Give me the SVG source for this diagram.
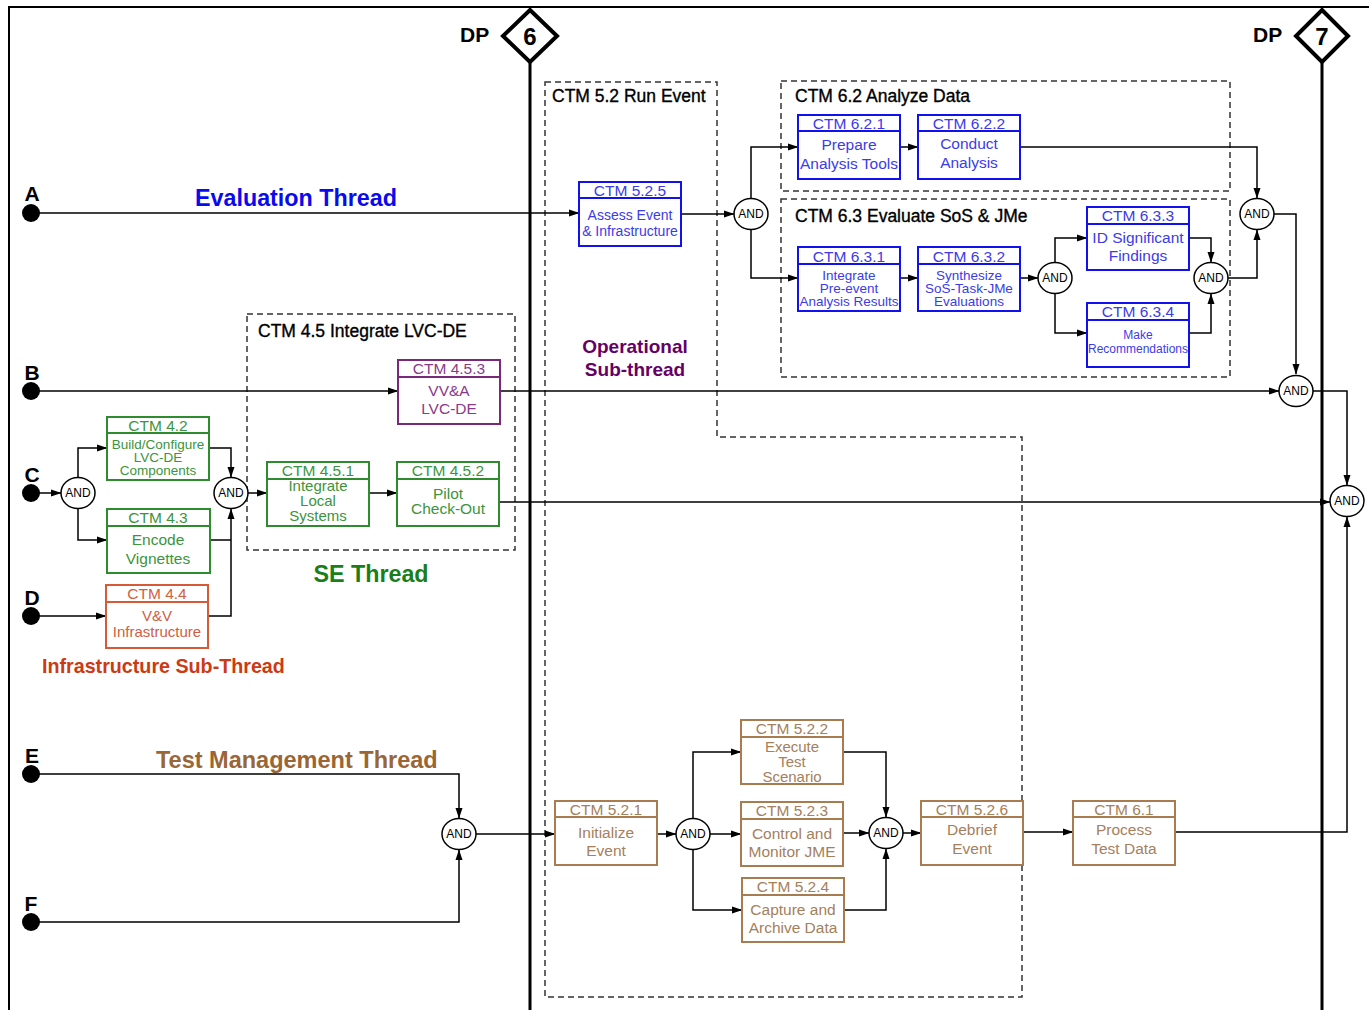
<svg xmlns="http://www.w3.org/2000/svg" width="1369" height="1010" viewBox="0 0 1369 1010">
  <defs>
    <marker id="arr" markerWidth="11" markerHeight="8" refX="10" refY="4" orient="auto" markerUnits="userSpaceOnUse">
      <path d="M0,0.5 L10.5,4 L0,7.5 z" fill="#000"/>
    </marker>
    <style>
      text { font-family: "Liberation Sans", Arial, sans-serif; }
      .frame { stroke: #000; stroke-width: 2; fill: none; }
      .dp { stroke: #000; stroke-width: 3; fill: none; }
      .diamond { stroke: #000; stroke-width: 4; fill: #fff; }
      .dptxt { font-size: 21px; font-weight: bold; fill: #000; }
      .dpnum { font-size: 24px; font-weight: bold; fill: #000; text-anchor: middle; }
      .grp { stroke: #333; stroke-width: 1.5; stroke-dasharray: 6 4; fill: none; }
      .gtitle { font-size: 17.5px; fill: #000; stroke: #000; stroke-width: 0.35; }
      .box { fill: #fff; stroke-width: 2; }
      .hd { font-size: 15.5px; text-anchor: middle; }
      .bd { text-anchor: middle; }
      .blue .box { stroke: #1010f0; }
      .blue text { fill: #3b3bea; }
      .green .box { stroke: #2e8b2e; }
      .green text { fill: #3c943c; }
      .brown .box { stroke: #a97c50; }
      .brown text { fill: #a5805c; }
      .purple .box { stroke: #7a287a; }
      .purple text { fill: #8a3a8a; }
      .orange .box { stroke: #d65a36; }
      .orange text { fill: #d0603f; }
      .and ellipse { fill: #fff; stroke: #000; stroke-width: 1.5; }
      .and text { font-size: 12px; fill: #000; text-anchor: middle; }
      .dot { fill: #000; }
      .letter { font-size: 21px; font-weight: bold; fill: #000; text-anchor: middle; }
      .wire { stroke: #000; stroke-width: 1.5; fill: none; }
      .wire.a { marker-end: url(#arr); }
      .thread { font-weight: bold; }
    </style>
  </defs>

  <rect width="1369" height="1010" fill="#fff"/>

  <!-- outer frame -->
  <g id="frame">
    <line class="frame" x1="8" y1="7" x2="1369" y2="7"/>
    <line class="frame" x1="9" y1="6" x2="9" y2="1010"/>
  </g>

  <!-- decision point lines -->
  <g id="dp6">
    <line class="dp" x1="530" y1="60" x2="530" y2="1010"/>
    <text class="dptxt" x="460" y="42">DP</text>
    <polygon class="diamond" points="530,10 557,36 530,62 503,36"/>
    <text class="dpnum" x="530" y="45">6</text>
  </g>
  <g id="dp7">
    <line class="dp" x1="1322" y1="60" x2="1322" y2="1010"/>
    <text class="dptxt" x="1253" y="42">DP</text>
    <polygon class="diamond" points="1322,10 1348,36 1322,62 1296,36"/>
    <text class="dpnum" x="1322" y="45">7</text>
  </g>

  <!-- activity groupings -->
  <g id="grp-5-2">
    <polygon class="grp" points="545,82 717,82 717,437 1022,437 1022,997 545,997"/>
    <text class="gtitle" x="552" y="102">CTM 5.2 Run Event</text>
  </g>
  <g id="grp-6-2">
    <rect class="grp" x="781" y="81" width="449" height="110"/>
    <text class="gtitle" x="795" y="102">CTM 6.2 Analyze Data</text>
  </g>
  <g id="grp-6-3">
    <rect class="grp" x="781" y="199" width="449" height="178"/>
    <text class="gtitle" x="795" y="222">CTM 6.3 Evaluate SoS &amp; JMe</text>
  </g>
  <g id="grp-4-5">
    <rect class="grp" x="247" y="314" width="268" height="236"/>
    <text class="gtitle" x="258" y="337">CTM 4.5 Integrate LVC-DE</text>
  </g>

  <!-- thread labels -->
  <g id="labels">
    <text class="thread" x="195" y="206" style="font-size:23.3px;fill:#0a0aee">Evaluation Thread</text>
    <text class="thread" x="371" y="582" text-anchor="middle" style="font-size:23.3px;fill:#1a7f1a">SE Thread</text>
    <text class="thread" x="42" y="673" style="font-size:19.7px;fill:#cc3a14">Infrastructure Sub-Thread</text>
    <text class="thread" x="156" y="768" style="font-size:23.5px;fill:#9a6636">Test Management Thread</text>
    <text class="thread" x="635" y="353" text-anchor="middle" style="font-size:19px;fill:#660066">Operational</text>
    <text class="thread" x="635" y="376" text-anchor="middle" style="font-size:19px;fill:#660066">Sub-thread</text>
  </g>

  <!-- connectors -->
  <g id="connectors">
    <!-- evaluation thread -->
    <polyline class="wire a" points="31,213 579,213"/>
    <polyline class="wire a" points="681,214 734,214"/>
    <polyline class="wire a" points="751,199 751,147 798,147"/>
    <polyline class="wire a" points="751,229 751,278 798,278"/>
    <polyline class="wire a" points="900,147 918,147"/>
    <polyline class="wire a" points="1020,147 1257,147 1257,198"/>
    <polyline class="wire a" points="900,278 918,278"/>
    <polyline class="wire a" points="1020,278 1038,278"/>
    <polyline class="wire a" points="1055,263 1055,238 1087,238"/>
    <polyline class="wire a" points="1055,293 1055,333 1087,333"/>
    <polyline class="wire a" points="1189,238 1211,238 1211,262"/>
    <polyline class="wire a" points="1189,333 1211,333 1211,294"/>
    <polyline class="wire a" points="1228,278 1257,278 1257,230"/>
    <polyline class="wire a" points="1274,214 1296,214 1296,374"/>
    <!-- B thread -->
    <polyline class="wire a" points="31,391 398,391"/>
    <polyline class="wire a" points="500,391 1279,391"/>
    <polyline class="wire a" points="1313,391 1347,391 1347,485"/>
    <!-- C / D threads -->
    <polyline class="wire a" points="31,493 61,493"/>
    <polyline class="wire a" points="78,478 78,448 107,448"/>
    <polyline class="wire a" points="78,508 78,540 107,540"/>
    <polyline class="wire a" points="209,448 231,448 231,477"/>
    <polyline class="wire" points="210,540 231,540"/>
    <polyline class="wire a" points="208,616 231,616 231,509"/>
    <polyline class="wire a" points="31,616 106,616"/>
    <polyline class="wire a" points="248,493 267,493"/>
    <polyline class="wire a" points="369,493 397,493"/>
    <polyline class="wire a" points="499,502 1330,502"/>
    <!-- test management thread -->
    <polyline class="wire a" points="31,774 459,774 459,818"/>
    <polyline class="wire a" points="31,922 459,922 459,850"/>
    <polyline class="wire a" points="476,834 555,834"/>
    <polyline class="wire a" points="657,834 676,834"/>
    <polyline class="wire a" points="693,819 693,752 741,752"/>
    <polyline class="wire a" points="710,834 741,834"/>
    <polyline class="wire a" points="693,849 693,910 742,910"/>
    <polyline class="wire a" points="843,752 886,752 886,817"/>
    <polyline class="wire a" points="843,833 869,833"/>
    <polyline class="wire a" points="844,910 886,910 886,849"/>
    <polyline class="wire a" points="903,833 921,833"/>
    <polyline class="wire a" points="1023,832 1073,832"/>
    <polyline class="wire a" points="1175,832 1347,832 1347,517"/>
  </g>

  <!-- thread start points -->
  <g id="start-A"><circle class="dot" cx="31" cy="213" r="9"/><text class="letter" x="32" y="201">A</text></g>
  <g id="start-B"><circle class="dot" cx="31" cy="391" r="9"/><text class="letter" x="32" y="380">B</text></g>
  <g id="start-C"><circle class="dot" cx="31" cy="493" r="9"/><text class="letter" x="32" y="482">C</text></g>
  <g id="start-D"><circle class="dot" cx="31" cy="616" r="9"/><text class="letter" x="32" y="605">D</text></g>
  <g id="start-E"><circle class="dot" cx="31" cy="774" r="9"/><text class="letter" x="32" y="763">E</text></g>
  <g id="start-F"><circle class="dot" cx="31" cy="922" r="9"/><text class="letter" x="31" y="911">F</text></g>

  <!-- AND junctions -->
  <g id="and-751-214" class="and"><ellipse cx="751" cy="214" rx="17" ry="15.5"/><text x="751" y="218">AND</text></g>
  <g id="and-1055-278" class="and"><ellipse cx="1055" cy="278" rx="17" ry="15.5"/><text x="1055" y="282">AND</text></g>
  <g id="and-1211-278" class="and"><ellipse cx="1211" cy="278" rx="17" ry="15.5"/><text x="1211" y="282">AND</text></g>
  <g id="and-1257-214" class="and"><ellipse cx="1257" cy="214" rx="17" ry="15.5"/><text x="1257" y="218">AND</text></g>
  <g id="and-1296-391" class="and"><ellipse cx="1296" cy="391" rx="17" ry="15.5"/><text x="1296" y="395">AND</text></g>
  <g id="and-1347-501" class="and"><ellipse cx="1347" cy="501" rx="17" ry="15.5"/><text x="1347" y="505">AND</text></g>
  <g id="and-78-493" class="and"><ellipse cx="78" cy="493" rx="17" ry="15.5"/><text x="78" y="497">AND</text></g>
  <g id="and-231-493" class="and"><ellipse cx="231" cy="493" rx="17" ry="15.5"/><text x="231" y="497">AND</text></g>
  <g id="and-459-834" class="and"><ellipse cx="459" cy="834" rx="17" ry="15.5"/><text x="459" y="838">AND</text></g>
  <g id="and-693-834" class="and"><ellipse cx="693" cy="834" rx="17" ry="15.5"/><text x="693" y="838">AND</text></g>
  <g id="and-886-833" class="and"><ellipse cx="886" cy="833" rx="17" ry="15.5"/><text x="886" y="837">AND</text></g>

  <!-- activity boxes -->
  <g id="ctm-5-2-5" class="blue">
    <rect class="box" x="579" y="182" width="102" height="64"/>
    <line class="box" x1="579" y1="198" x2="681" y2="198"/>
    <text class="hd" x="630" y="196">CTM 5.2.5</text>
    <text class="bd" x="630" y="220" font-size="14">Assess Event</text>
    <text class="bd" x="630" y="236" font-size="14">&amp; Infrastructure</text>
  </g>
  <g id="ctm-6-2-1" class="blue">
    <rect class="box" x="798" y="115" width="102" height="64"/>
    <line class="box" x1="798" y1="131" x2="900" y2="131"/>
    <text class="hd" x="849" y="129">CTM 6.2.1</text>
    <text class="bd" x="849" y="150" font-size="15.5">Prepare</text>
    <text class="bd" x="849" y="169" font-size="15.5">Analysis Tools</text>
  </g>
  <g id="ctm-6-2-2" class="blue">
    <rect class="box" x="918" y="115" width="102" height="64"/>
    <line class="box" x1="918" y1="131" x2="1020" y2="131"/>
    <text class="hd" x="969" y="129">CTM 6.2.2</text>
    <text class="bd" x="969" y="149" font-size="15.5">Conduct</text>
    <text class="bd" x="969" y="168" font-size="15.5">Analysis</text>
  </g>
  <g id="ctm-6-3-1" class="blue">
    <rect class="box" x="798" y="247" width="102" height="64"/>
    <line class="box" x1="798" y1="264" x2="900" y2="264"/>
    <text class="hd" x="849" y="262">CTM 6.3.1</text>
    <text class="bd" x="849" y="280" font-size="13.5">Integrate</text>
    <text class="bd" x="849" y="293" font-size="13.5">Pre-event</text>
    <text class="bd" x="849" y="306" font-size="13.5">Analysis Results</text>
  </g>
  <g id="ctm-6-3-2" class="blue">
    <rect class="box" x="918" y="247" width="102" height="64"/>
    <line class="box" x1="918" y1="264" x2="1020" y2="264"/>
    <text class="hd" x="969" y="262">CTM 6.3.2</text>
    <text class="bd" x="969" y="280" font-size="13.5">Synthesize</text>
    <text class="bd" x="969" y="293" font-size="13.5">SoS-Task-JMe</text>
    <text class="bd" x="969" y="306" font-size="13.5">Evaluations</text>
  </g>
  <g id="ctm-6-3-3" class="blue">
    <rect class="box" x="1087" y="207" width="102" height="63"/>
    <line class="box" x1="1087" y1="224" x2="1189" y2="224"/>
    <text class="hd" x="1138" y="221">CTM 6.3.3</text>
    <text class="bd" x="1138" y="243" font-size="15.5">ID Significant</text>
    <text class="bd" x="1138" y="261" font-size="15.5">Findings</text>
  </g>
  <g id="ctm-6-3-4" class="blue">
    <rect class="box" x="1087" y="303" width="102" height="64"/>
    <line class="box" x1="1087" y1="320" x2="1189" y2="320"/>
    <text class="hd" x="1138" y="317">CTM 6.3.4</text>
    <text class="bd" x="1138" y="339" font-size="12">Make</text>
    <text class="bd" x="1138" y="353" font-size="12">Recommendations</text>
  </g>
  <g id="ctm-4-5-3" class="purple">
    <rect class="box" x="398" y="360" width="102" height="64"/>
    <line class="box" x1="398" y1="377" x2="500" y2="377"/>
    <text class="hd" x="449" y="374">CTM 4.5.3</text>
    <text class="bd" x="449" y="396" font-size="15.5">VV&amp;A</text>
    <text class="bd" x="449" y="414" font-size="15.5">LVC-DE</text>
  </g>
  <g id="ctm-4-5-1" class="green">
    <rect class="box" x="267" y="462" width="102" height="64"/>
    <line class="box" x1="267" y1="479" x2="369" y2="479"/>
    <text class="hd" x="318" y="476">CTM 4.5.1</text>
    <text class="bd" x="318" y="491" font-size="15">Integrate</text>
    <text class="bd" x="318" y="506" font-size="15">Local</text>
    <text class="bd" x="318" y="521" font-size="15">Systems</text>
  </g>
  <g id="ctm-4-5-2" class="green">
    <rect class="box" x="397" y="462" width="102" height="64"/>
    <line class="box" x1="397" y1="479" x2="499" y2="479"/>
    <text class="hd" x="448" y="476">CTM 4.5.2</text>
    <text class="bd" x="448" y="499" font-size="15.5">Pilot</text>
    <text class="bd" x="448" y="514" font-size="15.5">Check-Out</text>
  </g>
  <g id="ctm-4-2" class="green">
    <rect class="box" x="107" y="417" width="102" height="63"/>
    <line class="box" x1="107" y1="433" x2="209" y2="433"/>
    <text class="hd" x="158" y="431">CTM 4.2</text>
    <text class="bd" x="158" y="449" font-size="13.5">Build/Configure</text>
    <text class="bd" x="158" y="462" font-size="13.5">LVC-DE</text>
    <text class="bd" x="158" y="475" font-size="13.5">Components</text>
  </g>
  <g id="ctm-4-3" class="green">
    <rect class="box" x="107" y="509" width="103" height="64"/>
    <line class="box" x1="107" y1="526" x2="210" y2="526"/>
    <text class="hd" x="158" y="523">CTM 4.3</text>
    <text class="bd" x="158" y="545" font-size="15.5">Encode</text>
    <text class="bd" x="158" y="564" font-size="15.5">Vignettes</text>
  </g>
  <g id="ctm-4-4" class="orange">
    <rect class="box" x="106" y="585" width="102" height="63"/>
    <line class="box" x1="106" y1="602" x2="208" y2="602"/>
    <text class="hd" x="157" y="599">CTM 4.4</text>
    <text class="bd" x="157" y="621" font-size="15">V&amp;V</text>
    <text class="bd" x="157" y="637" font-size="15">Infrastructure</text>
  </g>
  <g id="ctm-5-2-1" class="brown">
    <rect class="box" x="555" y="801" width="102" height="64"/>
    <line class="box" x1="555" y1="817" x2="657" y2="817"/>
    <text class="hd" x="606" y="815">CTM 5.2.1</text>
    <text class="bd" x="606" y="838" font-size="15.5">Initialize</text>
    <text class="bd" x="606" y="856" font-size="15.5">Event</text>
  </g>
  <g id="ctm-5-2-2" class="brown">
    <rect class="box" x="741" y="720" width="102" height="64"/>
    <line class="box" x1="741" y1="737" x2="843" y2="737"/>
    <text class="hd" x="792" y="734">CTM 5.2.2</text>
    <text class="bd" x="792" y="752" font-size="15">Execute</text>
    <text class="bd" x="792" y="767" font-size="15">Test</text>
    <text class="bd" x="792" y="782" font-size="15">Scenario</text>
  </g>
  <g id="ctm-5-2-3" class="brown">
    <rect class="box" x="741" y="802" width="102" height="64"/>
    <line class="box" x1="741" y1="819" x2="843" y2="819"/>
    <text class="hd" x="792" y="816">CTM 5.2.3</text>
    <text class="bd" x="792" y="839" font-size="15.5">Control and</text>
    <text class="bd" x="792" y="857" font-size="15.5">Monitor JME</text>
  </g>
  <g id="ctm-5-2-4" class="brown">
    <rect class="box" x="742" y="878" width="102" height="64"/>
    <line class="box" x1="742" y1="895" x2="844" y2="895"/>
    <text class="hd" x="793" y="892">CTM 5.2.4</text>
    <text class="bd" x="793" y="915" font-size="15.5">Capture and</text>
    <text class="bd" x="793" y="933" font-size="15.5">Archive Data</text>
  </g>
  <g id="ctm-5-2-6" class="brown">
    <rect class="box" x="921" y="801" width="102" height="64"/>
    <line class="box" x1="921" y1="817" x2="1023" y2="817"/>
    <text class="hd" x="972" y="815">CTM 5.2.6</text>
    <text class="bd" x="972" y="835" font-size="15.5">Debrief</text>
    <text class="bd" x="972" y="854" font-size="15.5">Event</text>
  </g>
  <g id="ctm-6-1" class="brown">
    <rect class="box" x="1073" y="801" width="102" height="64"/>
    <line class="box" x1="1073" y1="817" x2="1175" y2="817"/>
    <text class="hd" x="1124" y="815">CTM 6.1</text>
    <text class="bd" x="1124" y="835" font-size="15.5">Process</text>
    <text class="bd" x="1124" y="854" font-size="15.5">Test Data</text>
  </g>
</svg>
